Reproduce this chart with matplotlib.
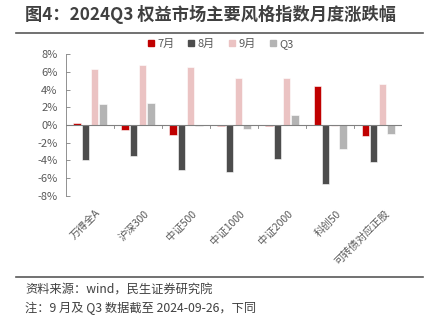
import numpy as np
import matplotlib.pyplot as plt
from matplotlib.lines import Line2D

plt.rcParams['font.family'] = ['Noto Sans CJK SC', 'DejaVu Sans']

categories = ['万得全A', '沪深300', '中证500', '中证1000', '中证2000', '科创50', '可转债对应正股']
series_names = ['7月', '8月', '9月', 'Q3']
jul = [0.26, -0.57, -1.13, -0.15, -0.15, 4.38, -1.25]
aug = [-4.00, -3.55, -5.13, -5.36, -3.85, -6.68, -4.19]
sep = [6.30, 6.79, 6.53, 5.32, 5.32, -0.10, 4.60]
q3 = [2.38, 2.49, -0.11, -0.49, 1.17, -2.72, -1.06]
colors = ['#C00000', '#4D4D4D', '#EBC3C3', '#B4B4B4']

fig = plt.figure(figsize=(4.31, 3.21), dpi=100)
ax = fig.add_axes([0.153, 0.390, 0.780, 0.441])

x = np.arange(len(categories))
step = 0.18
width = 0.15
for i, (vals, name, c) in enumerate(zip([jul, aug, sep, q3], series_names, colors)):
    ax.bar(x + (i - 1.5) * step, vals, width, color=c, label=name,
           edgecolor='white', linewidth=0.4)

ax.set_xlim(-0.5, len(categories) - 0.5)
ax.set_ylim(-8, 8)
ax.set_yticks(np.arange(-8, 9, 2))
ax.set_yticklabels([f'{v}%' for v in range(-8, 9, 2)])
ax.tick_params(axis='y', direction='in', length=3, width=0.6, color='#808080',
               labelsize=8, labelcolor='#595959', pad=6)

# x axis sits on zero, with ticks between the groups
for s in ['top', 'right', 'bottom']:
    ax.spines[s].set_visible(False)
ax.spines['left'].set_color('#808080')
ax.spines['left'].set_linewidth(0.6)
ax.axhline(0, color='#808080', lw=0.8, zorder=3)
for b in np.arange(0.5, len(categories), 1.0):
    ax.plot([b, b], [0, -0.35], color='#808080', lw=0.6, zorder=3)

ax.set_xticks(x + 0.12)
ax.set_xticklabels(categories, rotation=45, ha='right', rotation_mode='anchor')
ax.tick_params(axis='x', length=0, labelsize=7.5, labelcolor='#595959', pad=9)

handles = [Line2D([], [], marker='s', ls='', markersize=5, color=c) for c in colors]
fig.legend(handles, series_names, loc='center', bbox_to_anchor=(0.51, 0.862),
           ncol=4, frameon=False, fontsize=8, handletextpad=0.2, handlelength=0.8,
           columnspacing=1.1, labelcolor='#595959')

fig.text(0.058, 0.956, '图4：2024Q3 权益市场主要风格指数月度涨跌幅', fontsize=12.4,
         fontweight='bold', color='#404040', va='center')
fig.add_artist(Line2D([0.037, 0.982], [0.897, 0.897], color='#595959', lw=1.2))
fig.add_artist(Line2D([0.037, 0.982], [0.137, 0.137], color='#595959', lw=1.2))
fig.text(0.058, 0.097, '资料来源：wind，民生证券研究院', fontsize=8.8, color='#404040', va='center')
fig.text(0.058, 0.040, '注：9 月及 Q3 数据截至 2024-09-26，下同', fontsize=8.8, color='#404040', va='center')

fig.savefig('out.png', dpi=100)
